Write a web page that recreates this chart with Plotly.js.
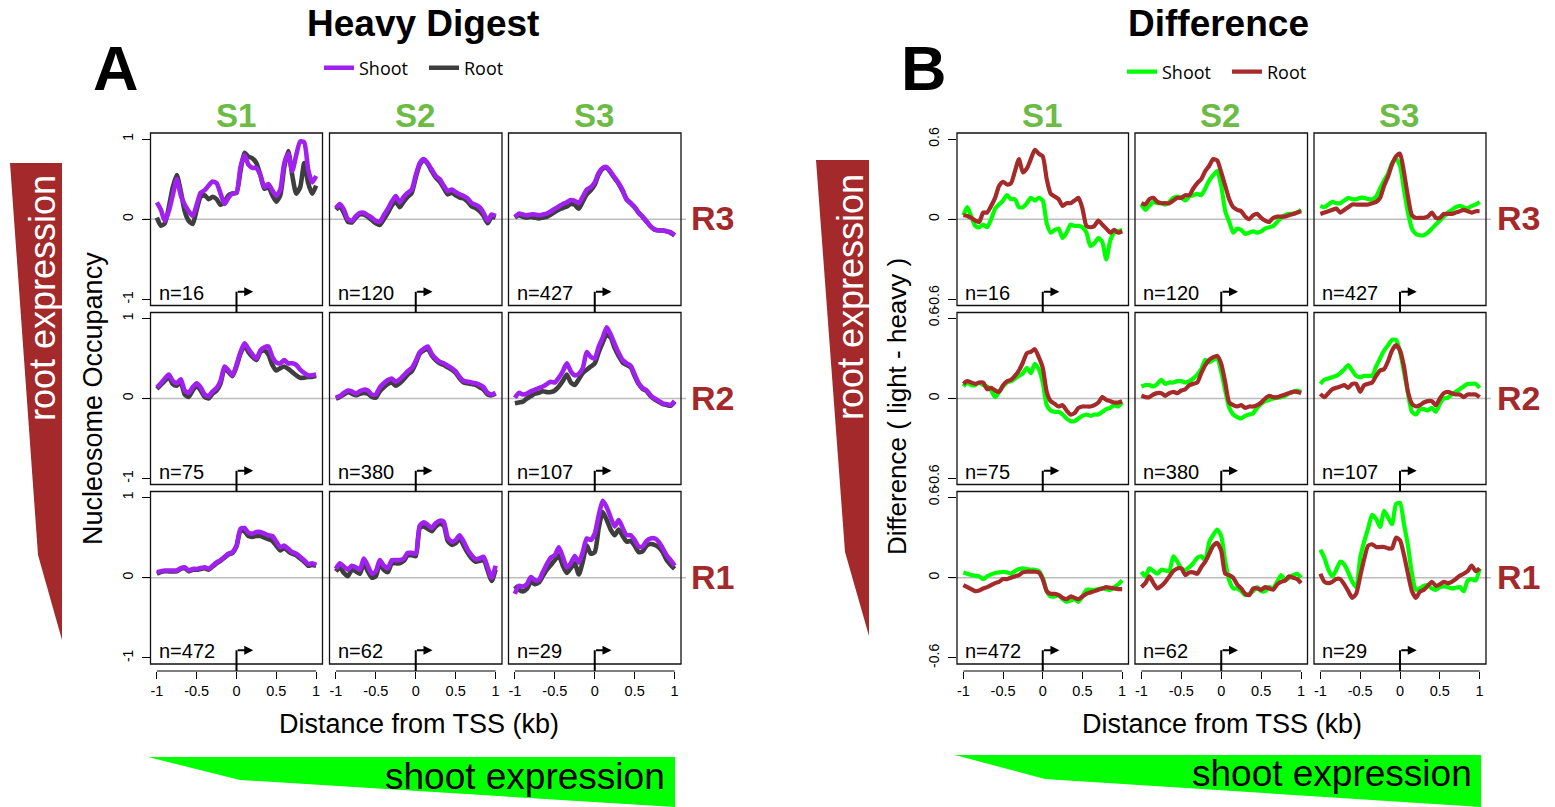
<!DOCTYPE html>
<html><head><meta charset="utf-8">
<script src="https://cdn.plot.ly/plotly-3.0.1.min.js"></script>
<style>html,body{margin:0;padding:0;background:#fff;}#chart{width:1555px;height:807px;}</style>
</head><body><div id="chart"></div>
<script>
// ---------------- DATA ----------------
const xKb = [-1,-0.95,-0.9,-0.85,-0.8,-0.75,-0.7,-0.65,-0.6,-0.55,-0.5,-0.45,-0.4,-0.35,-0.3,-0.25,-0.2,-0.15,-0.1,-0.05,0,0.05,0.1,0.15,0.2,0.25,0.3,0.35,0.4,0.45,0.5,0.55,0.6,0.65,0.7,0.75,0.8,0.85,0.9,0.95,1];
const sampleCounts = [[16,120,427],[75,380,107],[472,62,29]]; // rows R3,R2,R1 ; cols S1,S2,S3
const colLabels = ['S1','S2','S3'];
const rowLabels = ['R3','R2','R1'];
const seriesNames = ['Shoot','Root'];
const xTickVals = [-1,-0.5,0,0.5,1];
const xTickText = ['-1','-0.5','0','0.5','1'];
const yTickValsA = [-1,0,1];
const yTickTextA = ['-1','0','1'];
const yTickValsB = [-0.6,0,0.6];
const yTickTextB = ['-0.6','0','0.6'];

// Panel A : Heavy digest nucleosome occupancy
const heavyShootR3S1 = [0.21,0.12,-0.02,0.10,0.30,0.50,0.30,0.18,0.10,0.04, 0.18,0.33,0.36,0.42,0.47,0.45,0.32,0.19,0.27,0.32, 0.33,0.65,0.80,0.68,0.64,0.64,0.55,0.40,0.44,0.36, 0.29,0.37,0.70,0.82,0.60,0.80,0.97,0.96,0.62,0.46, 0.54];
const heavyRootR3S1  = [0.02,-0.08,-0.05,0.15,0.40,0.55,0.35,0.10,-0.02,-0.06, 0.12,0.28,0.30,0.25,0.28,0.25,0.18,0.22,0.30,0.32, 0.33,0.60,0.83,0.78,0.76,0.70,0.55,0.38,0.40,0.30, 0.22,0.30,0.65,0.85,0.55,0.32,0.40,0.70,0.45,0.32, 0.42];
const heavyShootR3S2 = [0.14,0.19,0.12,0.00,-0.02,0.04,0.08,0.08,0.05,0.02, -0.02,-0.03,0.05,0.13,0.22,0.29,0.21,0.28,0.33,0.37, 0.55,0.70,0.75,0.70,0.62,0.54,0.50,0.42,0.35,0.37, 0.34,0.31,0.29,0.26,0.20,0.18,0.15,0.08,-0.02,0.06, 0.04];
const heavyRootR3S2  = [0.12,0.16,0.08,-0.03,-0.04,0.02,0.06,0.06,0.03,-0.01, -0.05,-0.07,0.00,0.08,0.17,0.22,0.15,0.22,0.28,0.33, 0.52,0.68,0.74,0.69,0.60,0.52,0.47,0.39,0.31,0.33, 0.30,0.27,0.26,0.22,0.16,0.14,0.10,0.04,-0.05,0.03, 0.02];
const heavyShootR3S3 = [0.03,0.07,0.06,0.05,0.06,0.06,0.05,0.06,0.07,0.10, 0.13,0.16,0.19,0.21,0.24,0.23,0.20,0.28,0.37,0.40, 0.46,0.58,0.64,0.65,0.59,0.52,0.45,0.36,0.24,0.20, 0.15,0.08,0.03,-0.03,-0.09,-0.13,-0.14,-0.14,-0.15,-0.16, -0.20];
const heavyRootR3S3  = [0.02,0.05,0.03,0.02,0.03,0.02,0.01,0.02,0.03,0.06, 0.09,0.12,0.14,0.16,0.19,0.18,0.13,0.22,0.31,0.36, 0.43,0.56,0.63,0.64,0.58,0.51,0.44,0.35,0.25,0.20, 0.15,0.08,0.03,-0.03,-0.09,-0.13,-0.14,-0.14,-0.15,-0.17, -0.20];
const heavyShootR2S1 = [0.14,0.19,0.25,0.30,0.22,0.19,0.24,0.10,0.07,0.14, 0.19,0.14,0.05,0.03,0.09,0.13,0.22,0.40,0.35,0.29, 0.42,0.58,0.69,0.62,0.55,0.50,0.60,0.64,0.65,0.52, 0.45,0.44,0.48,0.44,0.44,0.42,0.36,0.32,0.29,0.29, 0.30];
const heavyRootR2S1  = [0.12,0.17,0.22,0.27,0.18,0.16,0.20,0.05,0.02,0.10, 0.16,0.10,0.02,0.00,0.06,0.10,0.19,0.38,0.33,0.28, 0.40,0.56,0.66,0.58,0.52,0.48,0.58,0.60,0.55,0.42, 0.35,0.38,0.40,0.37,0.33,0.29,0.26,0.26,0.27,0.27, 0.28];
const heavyShootR2S2 = [0.01,0.03,0.07,0.10,0.09,0.06,0.09,0.11,0.10,0.05, 0.05,0.14,0.19,0.23,0.25,0.21,0.24,0.29,0.34,0.38, 0.47,0.58,0.62,0.65,0.56,0.50,0.46,0.44,0.41,0.38, 0.34,0.27,0.22,0.21,0.20,0.19,0.17,0.14,0.07,0.05, 0.07];
const heavyRootR2S2  = [0.00,0.02,0.05,0.08,0.06,0.04,0.06,0.07,0.06,0.02, 0.01,0.09,0.14,0.18,0.20,0.16,0.19,0.24,0.30,0.34, 0.44,0.56,0.60,0.62,0.54,0.48,0.44,0.42,0.39,0.36, 0.32,0.25,0.20,0.19,0.18,0.17,0.14,0.11,0.05,0.04, 0.06];
const heavyShootR2S3 = [0.01,0.07,0.05,0.06,0.09,0.11,0.13,0.15,0.18,0.21, 0.20,0.26,0.34,0.44,0.34,0.29,0.31,0.38,0.58,0.52, 0.50,0.65,0.76,0.89,0.80,0.68,0.57,0.48,0.44,0.41, 0.30,0.19,0.13,0.10,0.04,0.00,-0.03,-0.06,-0.07,-0.08, -0.03];
const heavyRootR2S3  = [-0.06,-0.05,-0.04,0.00,0.03,0.06,0.07,0.09,0.08,0.08, 0.10,0.15,0.22,0.30,0.20,0.17,0.24,0.32,0.36,0.40, 0.44,0.58,0.70,0.80,0.76,0.63,0.53,0.45,0.42,0.39, 0.28,0.18,0.12,0.09,0.03,-0.01,-0.04,-0.07,-0.08,-0.09, -0.04];
const heavyShootR1S1 = [0.07,0.08,0.09,0.09,0.09,0.09,0.12,0.13,0.09,0.11, 0.11,0.12,0.13,0.11,0.15,0.19,0.22,0.26,0.30,0.32, 0.40,0.61,0.62,0.56,0.55,0.57,0.57,0.55,0.53,0.52, 0.45,0.38,0.40,0.36,0.32,0.30,0.26,0.22,0.17,0.18, 0.16];
const heavyRootR1S1  = [0.05,0.07,0.08,0.08,0.08,0.08,0.11,0.12,0.08,0.10, 0.10,0.11,0.12,0.10,0.14,0.18,0.21,0.25,0.29,0.31, 0.39,0.59,0.58,0.52,0.51,0.52,0.52,0.50,0.48,0.46, 0.40,0.34,0.37,0.33,0.30,0.28,0.24,0.20,0.15,0.16, 0.15];
const heavyShootR1S2 = [0.11,0.18,0.14,0.10,0.15,0.13,0.10,0.24,0.15,0.05, 0.08,0.22,0.15,0.12,0.22,0.22,0.22,0.24,0.31,0.31, 0.30,0.65,0.69,0.66,0.62,0.68,0.71,0.70,0.50,0.45, 0.47,0.53,0.45,0.35,0.28,0.23,0.24,0.26,0.13,0.00, 0.15];
const heavyRootR1S2  = [0.08,0.13,0.06,0.02,0.10,0.08,0.05,0.18,0.08,0.00, 0.02,0.17,0.10,0.07,0.18,0.18,0.18,0.21,0.28,0.28, 0.27,0.62,0.64,0.61,0.58,0.64,0.67,0.65,0.46,0.41, 0.43,0.49,0.40,0.31,0.24,0.20,0.21,0.22,0.09,-0.04, 0.10];
const heavyShootR1S3 = [-0.20,-0.10,-0.11,-0.08,0.01,-0.03,-0.03,0.07,0.17,0.25, 0.28,0.38,0.26,0.13,0.18,0.27,0.19,0.32,0.49,0.47, 0.55,0.78,0.96,0.88,0.75,0.64,0.72,0.62,0.53,0.53, 0.47,0.39,0.39,0.46,0.49,0.49,0.45,0.37,0.28,0.22, 0.15];
const heavyRootR1S3  = [-0.10,-0.15,-0.17,-0.14,-0.05,-0.08,-0.06,0.02,0.10,0.16, 0.22,0.28,0.15,0.06,0.12,0.18,0.04,0.20,0.40,0.30, 0.32,0.62,0.82,0.72,0.60,0.53,0.60,0.52,0.45,0.46, 0.40,0.32,0.33,0.40,0.42,0.41,0.38,0.32,0.22,0.16, 0.11];

// Panel B : Difference (light - heavy)
const diffShootR3S1 = [0.03,0.09,0.02,-0.05,-0.06,-0.04,-0.06,0.00,0.08,0.11, 0.14,0.18,0.15,0.15,0.09,0.09,0.12,0.16,0.14,0.16, 0.14,-0.03,-0.10,-0.08,-0.07,-0.14,-0.10,-0.04,-0.05,-0.05, -0.06,-0.10,-0.20,-0.18,-0.14,-0.17,-0.30,-0.16,-0.10,-0.09, -0.08];
const diffRootR3S1  = [0.03,0.025,0.01,-0.01,-0.02,0.05,0.05,0.10,0.16,0.25, 0.28,0.26,0.27,0.36,0.45,0.35,0.38,0.45,0.52,0.49, 0.47,0.30,0.19,0.17,0.15,0.10,0.12,0.12,0.14,0.16, 0.08,-0.05,-0.06,-0.05,-0.01,-0.04,-0.07,-0.10,-0.08,-0.10, -0.09];
const diffShootR3S2 = [0.11,0.07,0.10,0.13,0.12,0.12,0.11,0.13,0.16,0.17, 0.16,0.14,0.17,0.18,0.19,0.18,0.23,0.29,0.33,0.36, 0.25,0.06,-0.02,-0.10,-0.07,-0.08,-0.11,-0.10,-0.09,-0.10, -0.09,-0.07,-0.06,-0.05,-0.02,0.01,0.03,0.04,0.04,0.05, 0.07];
const diffRootR3S2  = [0.12,0.11,0.15,0.16,0.13,0.12,0.12,0.12,0.14,0.16, 0.16,0.18,0.18,0.23,0.27,0.30,0.36,0.40,0.45,0.44, 0.35,0.25,0.15,0.09,0.07,0.06,0.02,0.00,0.03,0.04, 0.01,-0.01,-0.02,0.01,0.02,0.02,0.02,0.03,0.04,0.05, 0.06];
const diffShootR3S3 = [0.10,0.09,0.11,0.13,0.12,0.12,0.14,0.16,0.15,0.15, 0.16,0.16,0.15,0.15,0.17,0.23,0.29,0.34,0.42,0.45, 0.40,0.22,0.05,-0.07,-0.11,-0.12,-0.12,-0.10,-0.07,-0.04, -0.01,0.02,0.05,0.07,0.09,0.10,0.09,0.08,0.10,0.11, 0.13];
const diffRootR3S3  = [0.04,0.05,0.06,0.07,0.08,0.05,0.07,0.09,0.11,0.11, 0.11,0.11,0.11,0.12,0.13,0.16,0.25,0.32,0.41,0.47, 0.49,0.35,0.17,0.03,0.01,0.01,0.01,0.02,0.05,0.01, 0.01,0.04,0.04,0.04,0.05,0.06,0.07,0.06,0.05,0.06, 0.06];
const diffShootR2S1 = [0.09,0.12,0.10,0.10,0.12,0.10,0.09,0.06,0.01,0.05, 0.09,0.12,0.13,0.15,0.17,0.19,0.23,0.19,0.26,0.22, 0.12,-0.05,-0.09,-0.10,-0.10,-0.12,-0.15,-0.17,-0.17,-0.15, -0.13,-0.12,-0.13,-0.12,-0.12,-0.10,-0.08,-0.07,-0.05,-0.06, -0.03];
const diffRootR2S1  = [0.11,0.13,0.12,0.11,0.12,0.12,0.07,0.08,0.06,0.05, 0.10,0.13,0.14,0.17,0.21,0.27,0.34,0.35,0.37,0.31, 0.23,0.05,-0.02,-0.04,-0.06,-0.05,-0.09,-0.12,-0.11,-0.07, -0.06,-0.06,-0.06,-0.05,-0.03,0.01,-0.01,-0.02,-0.03,-0.03, -0.02];
const diffShootR2S2 = [0.09,0.10,0.10,0.09,0.11,0.14,0.11,0.12,0.12,0.13, 0.13,0.12,0.13,0.15,0.18,0.22,0.29,0.27,0.29,0.30, 0.20,0.06,-0.07,-0.12,-0.14,-0.15,-0.13,-0.12,-0.11,-0.07, -0.04,-0.02,-0.01,0.00,0.005,0.01,0.02,0.04,0.05,0.06, 0.05];
const diffRootR2S2  = [0.02,0.01,0.01,0.03,0.04,0.04,0.02,0.04,0.05,0.04, 0.06,0.07,0.10,0.11,0.12,0.19,0.25,0.29,0.31,0.32, 0.26,0.12,-0.03,-0.05,-0.06,-0.05,-0.07,-0.06,-0.06,-0.05, -0.03,0.00,0.02,0.01,0.01,0.02,0.03,0.04,0.05,0.05, 0.04];
const diffShootR2S3 = [0.11,0.14,0.15,0.16,0.17,0.19,0.22,0.25,0.21,0.17, 0.16,0.17,0.17,0.17,0.24,0.30,0.36,0.40,0.44,0.44, 0.35,0.20,0.04,-0.10,-0.12,-0.08,-0.08,-0.09,-0.07,-0.10, -0.04,0.00,0.005,0.03,0.05,0.07,0.09,0.11,0.11,0.11, 0.08];
const diffRootR2S3  = [0.035,0.01,0.04,0.07,0.08,0.09,0.10,0.08,0.11,0.11, 0.05,0.10,0.11,0.12,0.17,0.21,0.22,0.28,0.36,0.40, 0.36,0.24,0.05,-0.04,-0.06,-0.05,-0.03,-0.02,-0.02,-0.05, 0.00,0.04,0.05,0.04,0.03,0.03,0.01,0.03,0.03,0.03, 0.01];
const diffShootR1S1 = [0.04,0.03,0.02,0.015,0.01,-0.01,0.01,0.025,0.035,0.04, 0.045,0.04,0.03,0.05,0.065,0.07,0.065,0.06,0.06,0.05, 0.00,-0.10,-0.14,-0.14,-0.13,-0.16,-0.18,-0.17,-0.16,-0.18, -0.14,-0.09,-0.09,-0.09,-0.085,-0.08,-0.085,-0.09,-0.07,-0.05, -0.02];
const diffRootR1S1  = [-0.055,-0.07,-0.085,-0.10,-0.095,-0.08,-0.07,-0.055,-0.04,-0.03, -0.01,-0.01,0.00,0.01,0.02,0.04,0.045,0.045,0.045,0.04, -0.01,-0.10,-0.12,-0.12,-0.13,-0.15,-0.16,-0.14,-0.15,-0.16, -0.14,-0.12,-0.11,-0.10,-0.09,-0.08,-0.07,-0.075,-0.08,-0.085, -0.085];
const diffShootR1S2 = [0.045,0.01,0.07,0.05,0.03,0.06,0.055,0.05,0.16,0.12, 0.07,0.06,0.08,0.11,0.15,0.16,0.13,0.27,0.32,0.36, 0.31,0.12,-0.02,-0.08,-0.08,-0.10,-0.13,-0.12,-0.10,-0.07, -0.10,-0.10,-0.07,-0.08,-0.03,0.02,-0.02,0.00,0.02,0.03, 0.00];
const diffRootR1S2  = [-0.07,-0.04,0.01,-0.04,-0.08,-0.06,-0.03,0.01,0.05,0.07, 0.07,0.02,0.04,0.04,0.03,0.08,0.12,0.18,0.24,0.26, 0.20,0.03,0.02,0.00,-0.05,-0.08,-0.12,-0.13,-0.08,-0.08, -0.09,-0.07,-0.08,-0.09,-0.05,-0.03,-0.02,0.01,0.00,-0.01, -0.04];
const diffShootR1S3 = [0.21,0.15,0.06,0.01,0.06,0.12,0.10,0.04,-0.03,-0.07, 0.15,0.27,0.37,0.47,0.44,0.38,0.50,0.45,0.40,0.55, 0.56,0.40,0.24,0.03,-0.09,-0.08,-0.06,-0.055,-0.08,-0.09, -0.07,-0.065,-0.07,-0.08,-0.075,-0.07,-0.10,-0.02,-0.01,-0.02, 0.07];
const diffRootR1S3  = [0.03,-0.03,-0.04,-0.03,-0.01,-0.01,-0.05,-0.10,-0.15,-0.12, 0.01,0.14,0.24,0.25,0.23,0.23,0.23,0.22,0.22,0.30, 0.28,0.17,0.03,-0.10,-0.15,-0.105,-0.09,-0.06,-0.03,-0.06, -0.05,-0.03,-0.04,-0.03,-0.01,0.015,0.03,0.05,0.09,0.05, 0.07];

// grids built from the named arrays (rows R3,R2,R1 ; cols S1,S2,S3)
const heavyShoot = [[heavyShootR3S1,heavyShootR3S2,heavyShootR3S3],[heavyShootR2S1,heavyShootR2S2,heavyShootR2S3],[heavyShootR1S1,heavyShootR1S2,heavyShootR1S3]];
const heavyRoot  = [[heavyRootR3S1,heavyRootR3S2,heavyRootR3S3],[heavyRootR2S1,heavyRootR2S2,heavyRootR2S3],[heavyRootR1S1,heavyRootR1S2,heavyRootR1S3]];
const diffShoot  = [[diffShootR3S1,diffShootR3S2,diffShootR3S3],[diffShootR2S1,diffShootR2S2,diffShootR2S3],[diffShootR1S1,diffShootR1S2,diffShootR1S3]];
const diffRoot   = [[diffRootR3S1,diffRootR3S2,diffRootR3S3],[diffRootR2S1,diffRootR2S2,diffRootR2S3],[diffRootR1S1,diffRootR1S2,diffRootR1S3]];

// ---------------- LAYOUT HELPERS ----------------
const W = 1555, H = 807;
const fx = p => p / W;
const fy = p => 1 - p / H;
const FONT = 'Liberation Sans, Arial, Helvetica, sans-serif';
const rowsPx = [[133,305.5],[312.5,484.5],[491.5,664]];
const panels = [
  { cols: [[150.5,322.5],[329.5,502],[508.5,681]], yr: 1.075, tv: yTickValsA, tt: yTickTextA,
    series: [ {data: heavyRoot, name: seriesNames[1], color: '#3E3E3E', rank: 2},
              {data: heavyShoot, name: seriesNames[0], color: '#A020F0', rank: 1} ],
    lw: 4.6, legend: 'legend', zero: [143, 686], rowLabX: 712 },
  { cols: [[957,1128.5],[1135,1307.5],[1314,1486]], yr: 0.645, tv: yTickValsB, tt: yTickTextB,
    series: [ {data: diffShoot, name: seriesNames[0], color: '#00FF00', rank: 1},
              {data: diffRoot, name: seriesNames[1], color: '#A52A2A', rank: 2} ],
    lw: 4.2, legend: 'legend2', zero: [950, 1491], rowLabX: 1518 }
];

const traces = [];
const shapes = [];
const annotations = [];
const legendBase = {xanchor: 'left', yanchor: 'middle', orientation: 'h',
  font: {size: 18, family: 'Open Sans, ' + FONT}, bgcolor: 'rgba(0,0,0,0)', borderwidth: 0,
  itemwidth: 30, entrywidth: 60, entrywidthmode: 'pixels', itemclick: false, itemdoubleclick: false};
const layout = {
  width: W, height: H, margin: {l:0, r:0, t:0, b:0},
  paper_bgcolor: '#ffffff', plot_bgcolor: 'rgba(0,0,0,0)',
  font: {family: FONT, color: '#000'},
  showlegend: true,
  legend:  Object.assign({x: fx(319), y: fy(68)}, legendBase),
  legend2: Object.assign({x: fx(1122), y: fy(72)}, legendBase)
};

panels.forEach((P, p) => {
  for (let r = 0; r < 3; r++) {
    for (let c = 0; c < 3; c++) {
      const k = p * 9 + r * 3 + c + 1;
      const sfx = k === 1 ? '' : String(k);
      const xa = 'x' + sfx, ya = 'y' + sfx;
      const xd = [fx(P.cols[c][0]), fx(P.cols[c][1])];
      const yd = [fy(rowsPx[r][1]), fy(rowsPx[r][0])];
      const xax = {domain: xd, range: [-1.08, 1.08], anchor: ya, showline: false, showgrid: false,
                   zeroline: false, showticklabels: false, ticks: '', fixedrange: true};
      if (r === 2) {
        Object.assign(xax, {anchor: 'free', position: fy(671), ticks: 'outside', ticklen: 7, tickwidth: 1,
          tickcolor: '#000', tickmode: 'array', tickvals: xTickVals, ticktext: xTickText, showticklabels: true,
          tickfont: {size: 14.5, family: FONT, color: '#000'}});
        shapes.push({type: 'line', xref: xa, yref: 'paper', x0: -1, x1: 1, y0: fy(671), y1: fy(671),
                     line: {color: '#000', width: 1}});
      }
      const yax = {domain: yd, range: [-P.yr, P.yr], anchor: xa, showline: false, showgrid: false,
                   zeroline: false, showticklabels: false, ticks: '', fixedrange: true};
      if (c === 0) {
        Object.assign(yax, {ticks: 'outside', ticklen: 8, tickwidth: 1, tickcolor: '#000', tickmode: 'array',
          tickvals: P.tv, ticktext: P.tt, showticklabels: true, tickangle: -90, ticklabelstandoff: 3,
          tickfont: {size: 14, family: FONT, color: '#000'}});
      }
      layout['xaxis' + sfx] = xax;
      layout['yaxis' + sfx] = yax;

      // frame
      shapes.push({type: 'rect', xref: xa + ' domain', yref: ya + ' domain', x0: 0, x1: 1, y0: 0, y1: 1,
                   line: {color: '#111', width: 1.3}, fillcolor: 'rgba(0,0,0,0)'});
      // zero line across the row
      if (c === 0) {
        shapes.push({type: 'line', xref: 'paper', yref: ya, x0: fx(P.zero[0]), x1: fx(P.zero[1]), y0: 0, y1: 0,
                     line: {color: '#BDBDBD', width: 1.5}, layer: 'below'});
      }
      // TSS arrow
      shapes.push({type: 'line', xref: xa, yref: ya + ' domain', x0: 0, x1: 0, y0: -0.04, y1: 0.08,
                   line: {color: '#000', width: 2}});
      annotations.push({xref: xa, yref: ya + ' domain', x: 0.21, y: 0.08, axref: 'pixel', ayref: 'pixel',
                        ax: -17, ay: 0, text: '', showarrow: true, arrowhead: 2, arrowsize: 0.9,
                        arrowwidth: 2, arrowcolor: '#000', standoff: 0});
      // n= label
      annotations.push({xref: xa + ' domain', yref: ya + ' domain', x: 0.035, y: 0.075, xanchor: 'left',
                        yanchor: 'middle', text: 'n=' + sampleCounts[r][c], showarrow: false,
                        font: {size: 20, family: FONT, color: '#000'}});

      P.series.forEach(s => {
        traces.push({type: 'scatter', mode: 'lines', x: xKb, y: s.data[r][c], xaxis: xa, yaxis: ya,
          name: s.name, legend: P.legend, legendrank: s.rank, showlegend: (r === 0 && c === 0),
          line: {color: s.color, width: P.lw, shape: 'spline', smoothing: 0.6}, hoverinfo: 'skip'});
      });
    }
  }
  // column labels
  colLabels.forEach((t, c) => annotations.push({xref: 'paper', yref: 'paper',
    x: fx((P.cols[c][0] + P.cols[c][1]) / 2 - 1), y: fy(116), text: '<b>' + t + '</b>', showarrow: false,
    xanchor: 'center', yanchor: 'middle', font: {size: 33, family: FONT, color: '#6CBB45'}}));
  // row labels
  rowLabels.forEach((t, r) => annotations.push({xref: 'paper', yref: 'paper',
    x: fx(P.rowLabX), y: fy((rowsPx[r][0] + rowsPx[r][1]) / 2 - 1), text: '<b>' + t + '</b>', showarrow: false,
    xanchor: 'center', yanchor: 'middle', font: {size: 34, family: FONT, color: '#A3292B'}}));
});

// Decorative wedges (paper coordinates)
function pathPx(pts) {
  return pts.map((q, i) => (i ? 'L' : 'M') + fx(q[0]).toFixed(5) + ',' + fy(q[1]).toFixed(5)).join(' ') + ' Z';
}
shapes.push({type: 'path', xref: 'paper', yref: 'paper', path: pathPx([[10,163],[62,163],[62,640],[38,555]]),
             fillcolor: '#A3292B', line: {width: 0}});
shapes.push({type: 'path', xref: 'paper', yref: 'paper', path: pathPx([[816,160],[869,160],[869,636],[845,552]]),
             fillcolor: '#A3292B', line: {width: 0}});
shapes.push({type: 'path', xref: 'paper', yref: 'paper', path: pathPx([[148,757],[675,757],[675,807],[240,780]]),
             fillcolor: '#00FF00', line: {width: 0}});
shapes.push({type: 'path', xref: 'paper', yref: 'paper', path: pathPx([[955,755],[1481,755],[1481,807],[1045,779]]),
             fillcolor: '#00FF00', line: {width: 0}});

const txt = (x, y, text, size, opts) => annotations.push(Object.assign({xref: 'paper', yref: 'paper',
  x: fx(x), y: fy(y), text: text, showarrow: false, xanchor: 'center', yanchor: 'middle',
  font: {size: size, family: FONT, color: '#000'}}, opts || {}));

txt(423, 24, '<b>Heavy Digest</b>', 37);
txt(1218, 24, '<b>Difference</b>', 37);
txt(116, 68, '<b>A</b>', 63);
txt(924, 68, '<b>B</b>', 63);
txt(42, 298, 'root expression', 36, {textangle: -90, font: {size: 36, family: FONT, color: '#ffffff'}});
txt(851, 297, 'root expression', 36, {textangle: -90, font: {size: 36, family: FONT, color: '#ffffff'}});
txt(525, 776, 'shoot expression', 37);
txt(1332, 773, 'shoot expression', 37);
txt(93, 399, 'Nucleosome Occupancy', 27, {textangle: -90});
txt(897, 407, 'Difference ( light - heavy )', 26, {textangle: -90});
txt(419, 724, 'Distance from TSS (kb)', 27);
txt(1222, 724, 'Distance from TSS (kb)', 27);

layout.shapes = shapes;
layout.annotations = annotations;

Plotly.newPlot('chart', traces, layout, {staticPlot: true, displayModeBar: false});
</script></body></html>
